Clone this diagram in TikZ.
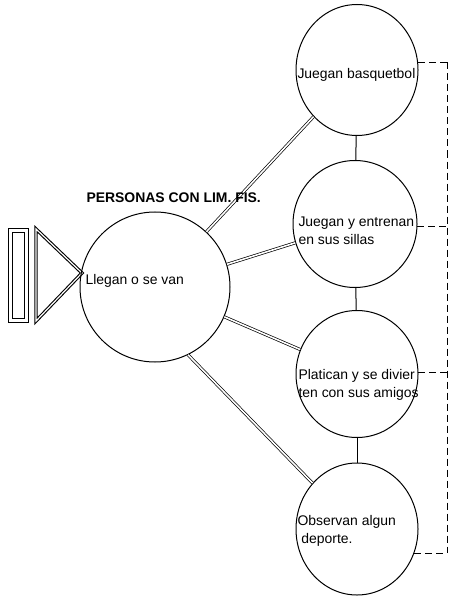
\documentclass[tikz,border=0pt]{standalone}
\usepackage{fontspec}
\setmainfont{Liberation Sans}
\usepackage{tikz}
\usetikzlibrary{shapes.geometric}

\begin{document}
\begin{tikzpicture}[x=1bp,y=-1bp,line width=1bp,
  burbuja/.style={draw,ellipse,inner sep=0pt,minimum width=122bp},
  texto/.style={anchor=west,inner sep=0pt,align=left,font=\fontsize{14}{18}\selectfont},
  enlace/.style={double,double distance=1.6bp,line width=0.7bp},
  raya/.style={dashed,dash pattern=on 7bp off 4bp}]
\useasboundingbox (0,0) rectangle (453,598);

\draw (8,228) rectangle (28,322);
\draw (12,232) rectangle (24,318);
\draw[double,double distance=1.2bp,line width=1.1bp] (36,229) -- (82,273) -- (36,321) -- cycle;

\node[draw,circle,inner sep=0pt,minimum size=150bp] (llegan) at (155,287) {};
\node[texto] (tllegan) at (85,281) {Llegan o se van};

\node[burbuja,minimum height=131bp] (c1) at (357,70) {};
\node[burbuja,minimum width=124bp,minimum height=127bp] (c2) at (355,224) {};
\node[burbuja,minimum height=127bp] (c3) at (357,374) {};
\node[burbuja,minimum height=132bp] (c4) at (357,529) {};

\node[texto] (t1) at (297,75) {Juegan basquetbol};
\node[texto] (t2) at (298,231) {Juegan y entrenan\\en sus sillas};
\node[texto] (t3) at (298,385) {Platican y se divier\\ten con sus amigos};
\node[texto] (t4) at (297,531) {Observan algun\\\ deporte.};

\foreach \a/\b in {c1/c2,c2/c3,c3/c4} {
\draw (\a) -- (\b);
}
\draw[enlace] (llegan) -- (c1);
\draw[enlace] (llegan) -- (c2);
\draw[enlace] (llegan) -- (c3);
\draw[enlace] (llegan.-64) -- (c4);

\node[anchor=west,inner sep=0pt,font=\bfseries\fontsize{14}{16}\selectfont] (titulo) at (86,198) {PERSONAS CON LIM. FIS.};

\coordinate (riel) at (447,0);
\foreach \c/\ang in {c1/7,c2/-2,c3/1,c4/-23} {
\draw[raya] (\c.\ang) -- (\c.\ang -| riel);
}
\draw[raya] (c1.7 -| riel) -- (c4.-23 -| riel);
\end{tikzpicture}
\end{document}
